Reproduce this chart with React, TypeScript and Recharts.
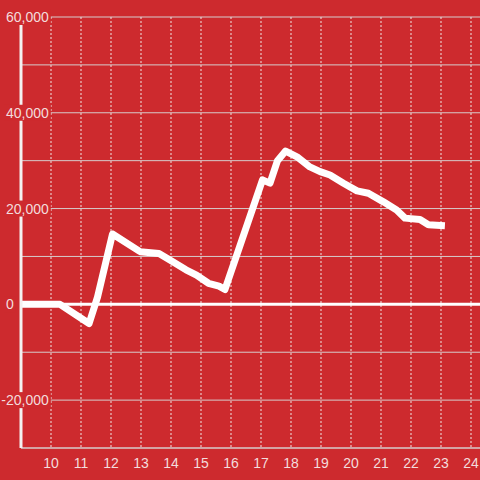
import {
  LineChart,
  Line,
  XAxis,
  YAxis,
  CartesianGrid,
  ReferenceLine,
} from "recharts";

const hours = [
  9, 10.3, 11.27, 11.55, 12.05, 12.97, 13.6, 13.95, 14.5, 14.85, 15.25, 15.6,
  15.8, 17.05, 17.3, 17.55, 17.82, 18.2, 18.63, 18.97, 19.3, 19.75, 20.2,
  20.58, 21.08, 21.52, 21.8, 22.3, 22.58, 23.13,
];
const values = [
  0, 0, -4000, 1500, 14700, 11000, 10600, 9300, 7200, 6100, 4400, 3800, 3100,
  26000, 25300, 30000, 32000, 30800, 28700, 27700, 27000, 25300, 23700, 23200,
  21400, 19700, 18000, 17700, 16600, 16400,
];
const xTicks = [10, 11, 12, 13, 14, 15, 16, 17, 18, 19, 20, 21, 22, 23, 24];
const yTicks = [-20000, 0, 20000, 40000, 60000];
const yGrid = [-30000, -20000, -10000, 0, 10000, 20000, 30000, 40000, 50000, 60000];

const data = hours.map((h, i) => ({ h, v: values[i] }));

const BG = "#cd2a2e";
const TEXT = "#f3dcdc";
const FONT = "'Liberation Sans', Arial, sans-serif";

function textWidth(s: string) {
  let w = 0;
  for (const c of s) w += c === "," ? 3.89 : c === "-" ? 4.66 : 7.78;
  return w;
}

function YTick(props: any) {
  const { y, payload } = props;
  const label = payload.value.toLocaleString("en-US");
  const w = textWidth(label);
  const x0 = payload.value < 0 ? 6 - 4.66 : 6;
  return (
    <g>
      <rect x={x0 - 2} y={y - 8} width={w + 4} height={16} fill={BG} />
      <text
        x={x0}
        y={y}
        dy={5}
        textAnchor="start"
        fill={TEXT}
        fontSize={14}
        fontFamily={FONT}
      >
        {label}
      </text>
    </g>
  );
}

function XTick(props: any) {
  const { x, payload } = props;
  return (
    <text
      x={x}
      y={468}
      textAnchor="middle"
      fill={TEXT}
      fontSize={14}
      fontFamily={FONT}
    >
      {payload.value}
    </text>
  );
}

export default function App() {
  return (
    <div
      style={{
        position: "absolute",
        left: 0,
        top: 0,
        width: 480,
        height: 480,
        background: BG,
      }}
    >
      <LineChart
        width={480}
        height={480}
        data={data}
        margin={{ top: 17, right: 0, bottom: 0, left: 20 }}
      >
        <CartesianGrid
          vertical={false}
          horizontalValues={yGrid}
          stroke="#d6cccc"
          strokeWidth={1}
        />
        <CartesianGrid
          horizontal={false}
          verticalValues={xTicks}
          stroke="#eee6e6"
          strokeDasharray="2 2"
          strokeWidth={1}
        />
        <ReferenceLine y={0} stroke="#ffffff" strokeWidth={3} />
        <XAxis
          dataKey="h"
          type="number"
          domain={[9, 24.3]}
          ticks={xTicks}
          allowDataOverflow
          height={32}
          axisLine={{ stroke: "#d6cccc", strokeWidth: 1 }}
          tickLine={false}
          tick={<XTick />}
        />
        <Line
          dataKey="v"
          type="linear"
          stroke="#ffffff"
          strokeWidth={7}
          strokeLinejoin="round"
          dot={false}
          isAnimationActive={false}
        />
        <YAxis
          type="number"
          domain={[-30000, 60000]}
          ticks={yTicks}
          allowDataOverflow
          width={1}
          axisLine={{ stroke: "#f4f0f0", strokeWidth: 3 }}
          tickLine={false}
          tick={<YTick />}
        />
      </LineChart>
    </div>
  );
}
